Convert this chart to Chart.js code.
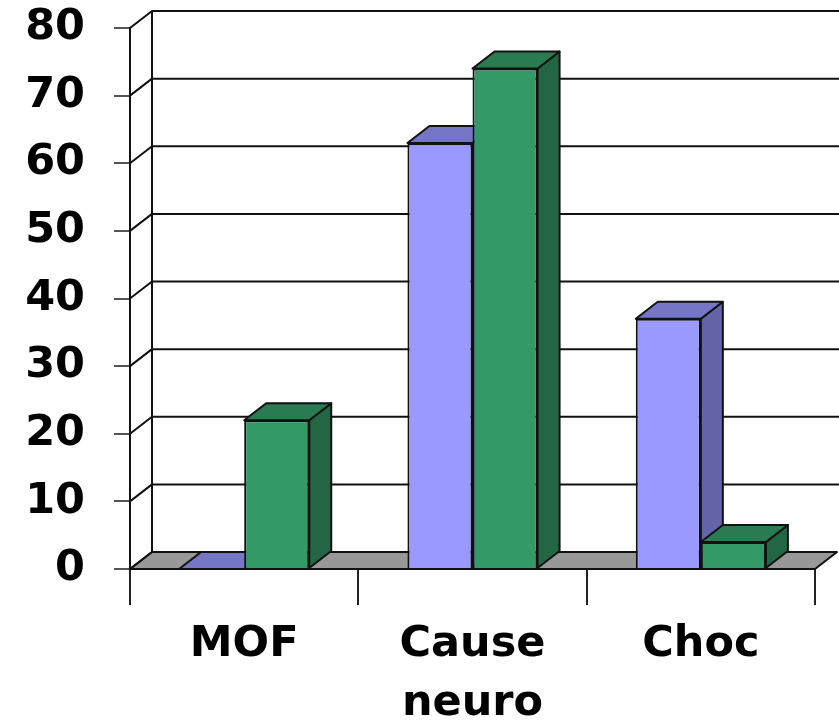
<!DOCTYPE html>
<html>
<head>
<meta charset="utf-8">
<style>
  html, body { margin: 0; padding: 0; background: #ffffff; }
  #wrap { width: 839px; height: 723px; }
</style>
<script src="https://cdn.jsdelivr.net/npm/chart.js@4/dist/chart.umd.min.js"></script>
</head>
<body>
<div id="wrap"><canvas id="c" width="839" height="723"></canvas></div>
<script>
// Categories and the two series (percent)
const categories = ['MOF', ['Cause', 'neuro'], 'Choc'];
const serie1 = [0, 63, 37];
const serie2 = [22, 74, 4];
const yMin = 0;
const yMax = 80;
const yStep = 10;

// Extrusion of the pseudo-3D boxes and walls
const DEPTH_X = 22;
const DEPTH_Y = -17;

const faceColors = [
  { front: '#9999ff', top: '#7676c6', side: '#6464a8' },
  { front: '#339966', top: '#2a7a52', side: '#226644' }
];

function poly(ctx, pts, fill, stroke, lw) {
  ctx.beginPath();
  ctx.moveTo(pts[0][0], pts[0][1]);
  for (let i = 1; i < pts.length; i++) ctx.lineTo(pts[i][0], pts[i][1]);
  ctx.closePath();
  if (fill) { ctx.fillStyle = fill; ctx.fill(); }
  if (stroke) { ctx.strokeStyle = stroke; ctx.lineWidth = lw || 1.5; ctx.lineJoin = 'round'; ctx.stroke(); }
}

const box3d = {
  id: 'box3d',
  beforeDatasetsDraw(chart) {
    const ctx = chart.ctx;
    const ys = chart.scales.y;
    const a = chart.chartArea;
    const y0 = ys.getPixelForValue(yMin);
    ctx.save();

    // floor
    poly(ctx, [[a.left, y0], [a.right, y0], [a.right + DEPTH_X, y0 + DEPTH_Y], [a.left + DEPTH_X, y0 + DEPTH_Y]], '#989898', '#111', 2);

    // side wall diagonals and back wall gridlines
    ctx.strokeStyle = '#111';
    ctx.lineWidth = 2;
    for (let v = yMin; v <= yMax; v += yStep) {
      const yf = ys.getPixelForValue(v);
      ctx.beginPath();
      ctx.moveTo(a.left, yf);
      ctx.lineTo(a.left + DEPTH_X, yf + DEPTH_Y);
      if (v > yMin) ctx.lineTo(chart.width, yf + DEPTH_Y);
      ctx.stroke();
    }
    // back wall left edge
    ctx.beginPath();
    ctx.moveTo(a.left + DEPTH_X, ys.getPixelForValue(yMax) + DEPTH_Y);
    ctx.lineTo(a.left + DEPTH_X, y0 + DEPTH_Y);
    ctx.stroke();

    // top and side faces of each bar
    chart.data.datasets.forEach((ds, i) => {
      const meta = chart.getDatasetMeta(i);
      const col = faceColors[i];
      meta.data.forEach(bar => {
        const p = bar.getProps(['x', 'y', 'base', 'width'], true);
        const L = p.x - p.width / 2, R = p.x + p.width / 2, T = p.y, B = p.base;
        poly(ctx, [[R, T], [R + DEPTH_X, T + DEPTH_Y], [R + DEPTH_X, B + DEPTH_Y], [R, B]], col.side, '#111', 2);
        poly(ctx, [[L, T], [R, T], [R + DEPTH_X, T + DEPTH_Y], [L + DEPTH_X, T + DEPTH_Y]], col.top, '#111', 2);
      });
    });
    ctx.restore();
  }
};

const fontFamily = "'DejaVu Sans', Verdana, sans-serif";
const xFont = { family: fontFamily, weight: 'bold', size: 43, lineHeight: 1.38 };
const yFont = { family: fontFamily, weight: 'bold', size: 43, lineHeight: 1.2 };

new Chart(document.getElementById('c'), {
  type: 'bar',
  data: {
    labels: categories,
    datasets: [
      { label: 'Série 1', data: serie1, backgroundColor: faceColors[0].front, borderColor: '#111', borderWidth: 2 },
      { label: 'Série 2', data: serie2, backgroundColor: faceColors[1].front, borderColor: '#111', borderWidth: 2 }
    ]
  },
  options: {
    responsive: false,
    animation: false,
    devicePixelRatio: 1,
    layout: { padding: { top: 28, right: 24, left: 0, bottom: 0 } },
    datasets: { bar: { categoryPercentage: 0.57, barPercentage: 1.0 } },
    plugins: { legend: { display: false }, tooltip: { enabled: false } },
    scales: {
      x: {
        offset: true,
        border: { display: false },
        grid: { offset: true, drawOnChartArea: false, drawTicks: true, tickLength: 36, color: '#222', lineWidth: 2 },
        ticks: { font: xFont, color: '#000', padding: 10, maxRotation: 0, autoSkip: false },
        afterFit(s) { s.height = 154; s.paddingLeft = 0; s.paddingRight = 0; }
      },
      y: {
        min: yMin,
        max: yMax,
        border: { display: true, color: '#111', width: 2 },
        grid: { drawOnChartArea: false, drawTicks: true, tickLength: 16, color: '#555', lineWidth: 2 },
        ticks: { stepSize: yStep, font: yFont, color: '#000', padding: 29 },
        afterFit(s) { s.width = 130; s.paddingTop = 0; s.paddingBottom = 0; }
      }
    }
  },
  plugins: [box3d]
});
</script>
</body>
</html>
